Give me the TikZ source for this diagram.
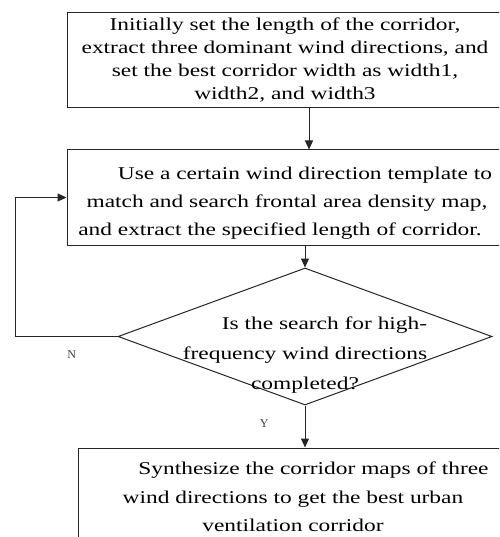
\documentclass[tikz,border=0pt]{standalone}
\usepackage{fontspec}
\setmainfont{Liberation Serif}
\newfontfamily\corfont[FakeStretch=1.3]{Liberation Serif}
\usepackage{tikz}
\usetikzlibrary{arrows.meta,positioning,shapes.geometric}
\colorlet{corline}{black!85}
\colorlet{corlabelgray}{black!75}
\tikzset{
  corstage/.style={
    draw=corline,
    line width=1pt,
    align=center,
    inner sep=0pt,
    font=\corfont\fontsize{18}{23}\selectfont
  },
  cortext/.style={align=center,inner sep=0pt,font=\corfont\fontsize{18}{30}\selectfont},
  cordecision/.style={diamond,draw=corline,line width=1pt,inner sep=0pt,
                      minimum width=374pt,minimum height=137pt},
  corflow/.style={-{Triangle[length=9pt,width=8pt]},line width=1pt,corline},
  corlabel/.style={font=\fontsize{12}{12}\selectfont,text=corlabelgray,inner sep=1pt}
}
\begin{document}
\begin{tikzpicture}[x=1pt,y=1pt]
  \useasboundingbox (0,0) rectangle (499,-537);
  \clip (0,0) rectangle (499,-537);
  \fill[white] (0,0) rectangle (499,-537);

  \node[corstage,minimum width=436pt,minimum height=95pt] (init) at (285,-60)
    {Initially set the length of the corridor,\\extract three dominant wind directions, and\\set the best corridor width as width1,\\width2, and width3};
  \node[corstage,minimum width=440pt,minimum height=95pt,
        font=\corfont\fontsize{18}{28}\selectfont] (search) at (287,-197.5)
    {\rule{0pt}{24pt}\hspace*{36pt}Use a certain wind direction template to\\match and search frontal area density map,\hspace*{14pt}\\and extract the specified length of corridor.\hspace*{14pt}};
  \node[cordecision] (check) at (305,-336.5) {};
  \node[cortext] (checktext) at (305,-355.5)
    {\hspace*{39pt}Is the search for high-\\frequency wind directions\\completed?};
  \node[corstage,minimum width=430pt,minimum height=98pt,
        font=\corfont\fontsize{18}{28.5}\selectfont] (synth) at (293,-497)
    {\hspace*{41pt}Synthesize the corridor maps of three\\wind directions to get the best urban\\ventilation corridor};

  \draw[corflow] ([xshift=24pt]init.south) -- ([xshift=24pt]init.south |- search.north);
  \draw[corflow] (search.south -| check.north) -- (check.north);
  \draw[corflow] (check.south) -- node[corlabel,pos=0.42,left=35pt] {Y} (synth.north -| check.south);
  \draw[corflow] (check.west) -- node[corlabel,pos=0.45,below=13pt] {N} ++(-102,0) |- (search.west);
\end{tikzpicture}
\end{document}
